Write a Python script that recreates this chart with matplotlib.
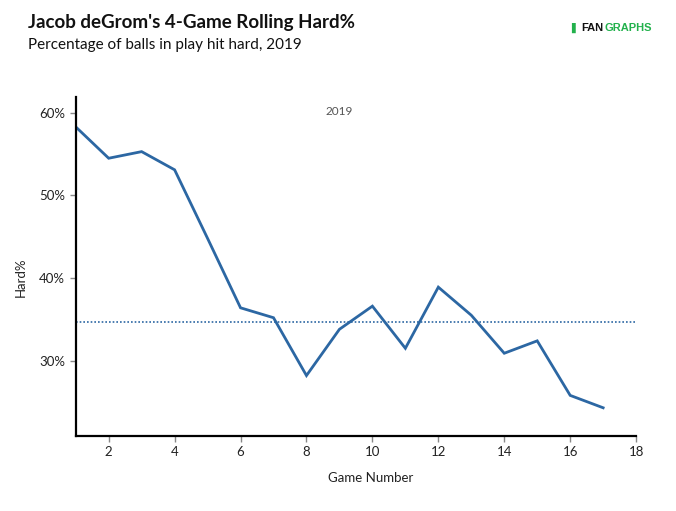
import numpy as np
import matplotlib
matplotlib.use('Agg')
import matplotlib.pyplot as plt
from matplotlib.ticker import FuncFormatter

plt.rcParams['font.family'] = ['Lato', 'DejaVu Sans']

# game number and rolling hard% (percent)
games = list(range(1, 18))
hard_pct = [58.3, 54.5, 55.3, 53.1, 44.8, 36.4, 35.2, 28.2, 33.8, 36.6,
            31.5, 38.9, 35.5, 30.9, 32.4, 25.8, 24.3]
# season average
avg_pct = 34.7
x_ticks = [2, 4, 6, 8, 10, 12, 14, 16, 18]
y_ticks = [30, 40, 50, 60]

fig = plt.figure(figsize=(6.76, 5.11), dpi=100)
ax = fig.add_axes([0.112, 0.147, 0.829, 0.663])

ax.plot(games, hard_pct, color='#2c67a3', linewidth=2.0, solid_joinstyle='miter')
ax.axhline(avg_pct, color='#2c67a3', linewidth=1.2, linestyle=(0, (1, 1.2)))

ax.set_xlim(1, 18)
ax.set_ylim(20.9, 61.9)
ax.set_xticks(x_ticks)
ax.set_yticks(y_ticks)
ax.yaxis.set_major_formatter(FuncFormatter(lambda v, p: '%d%%' % v))

for s in ['top', 'right']:
    ax.spines[s].set_visible(False)
for s in ['left', 'bottom']:
    ax.spines[s].set_linewidth(1.6)
    ax.spines[s].set_color('black')
ax.tick_params(axis='both', colors='#888888', labelcolor='#222222',
               labelsize=9.5, length=4, width=1)

fig.text(0.549, 0.064, 'Game Number', fontsize=9.5, color='#222222',
         ha='center', va='center')
fig.text(0.030, 0.458, 'Hard%', fontsize=9.5, color='#222222',
         ha='center', va='center', rotation=90)

ax.text(9.0, 60.2, '2019', fontsize=8.5, color='#555555', ha='center', va='center')

fig.text(0.041, 0.955, "Jacob deGrom's 4-Game Rolling Hard%", fontsize=13.5,
         fontweight='bold', color='#111111', va='center')
fig.text(0.041, 0.911, 'Percentage of balls in play hit hard, 2019', fontsize=11,
         color='#111111', va='center')

# logo text
logo_y = 0.945
fig.text(0.8925, logo_y, 'FAN', fontsize=8, fontweight='bold', color='#111111',
         ha='right', va='center', family='Liberation Sans')
fig.text(0.8945, logo_y, 'GRAPHS', fontsize=8, fontweight='bold', color='#22b14c',
         ha='left', va='center', family='Liberation Sans')
fig.text(0.845, logo_y, '\u258c', fontsize=7, color='#22b14c',
         ha='left', va='center', family='DejaVu Sans')

fig.savefig('out.png', dpi=100)
